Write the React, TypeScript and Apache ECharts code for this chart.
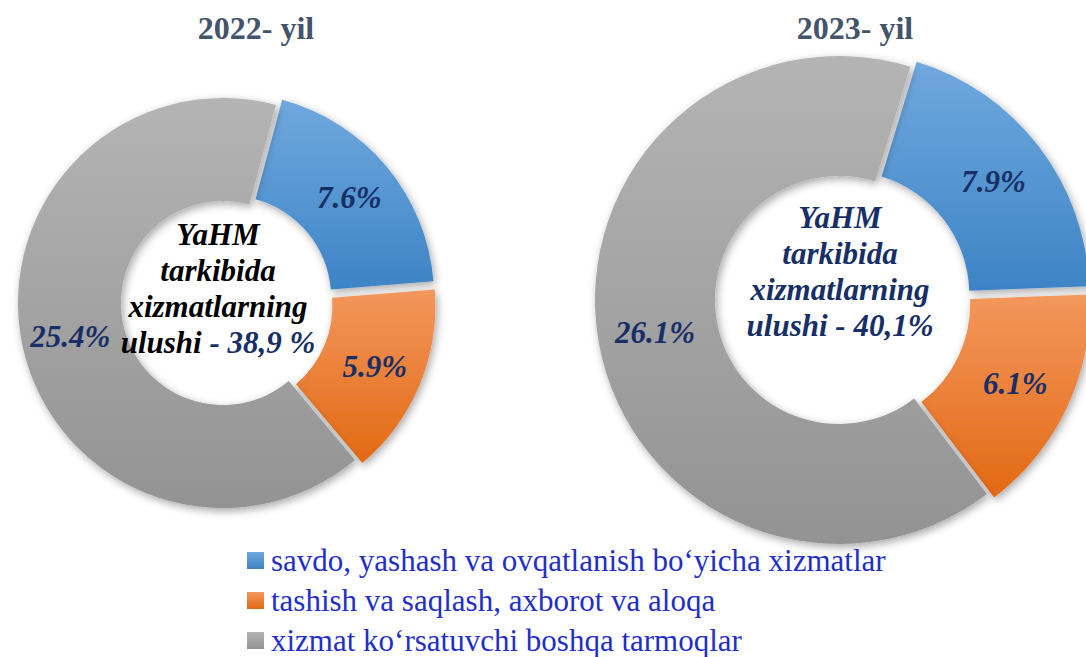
import React, { useEffect, useRef } from "react";
import * as echarts from "echarts";

const categories = [
  "savdo, yashash va ovqatlanish bo‘yicha xizmatlar",
  "tashish va saqlash, axborot va aloqa",
  "xizmat ko‘rsatuvchi boshqa tarmoqlar",
];
const values2022 = [7.6, 5.9, 25.4];
const values2023 = [7.9, 6.1, 26.1];
const yearTitles = ["2022- yil", "2023- yil"];
const totalLabels = ["- 38,9 %", "- 40,1%"];
const centerLines = ["YaHM", "tarkibida", "xizmatlarning", "ulushi "];

const gradients = [
  ["#70a8de", "#3d84c6"],
  ["#f3975c", "#e26914"],
  ["#b4b4b4", "#939393"],
];

const NAVY = "#172f66";
const SERIF = "'Liberation Serif', 'Times New Roman', serif";

function grad(c: string[]) {
  return new echarts.graphic.LinearGradient(0, 0, 0, 1, [
    { offset: 0, color: c[0] },
    { offset: 1, color: c[1] },
  ]);
}

function pieSeries(values: number[], center: number[], radius: number[], startAngle: number) {
  return {
    type: "pie",
    center,
    radius,
    startAngle,
    clockwise: true,
    selectedMode: "multiple",
    selectedOffset: 8,
    avoidLabelOverlap: false,
    emphasis: { disabled: true },
    label: {
      show: true,
      position: "inside",
      formatter: "{c}%",
      fontFamily: SERIF,
      fontStyle: "italic",
      fontWeight: "bold",
      fontSize: 31,
      color: NAVY,
    },
    labelLine: { show: false },
    itemStyle: {
      shadowBlur: 8,
      shadowColor: "rgba(0,0,0,0.35)",
      shadowOffsetX: 2,
      shadowOffsetY: 3,
    },
    data: values.map((v, i) => ({
      name: categories[i],
      value: v,
      selected: i < 2,
      itemStyle: { color: grad(gradients[i]) },
    })),
  };
}

function centerText(x: number, y: number, idx: number, firstColor: string) {
  const base = {
    fontFamily: SERIF,
    fontStyle: "italic",
    fontWeight: "bold",
    fontSize: 31,
    lineHeight: 36,
  };
  const rich = {
    b: { ...base, fill: firstColor },
    n: { ...base, fill: NAVY },
  };
  const text = centerLines
    .map((l, i) => (i < centerLines.length - 1 ? `{b|${l}}` : `{b|${l}}{n|${totalLabels[idx]}}`))
    .join("\n");
  return {
    type: "text",
    x,
    y,
    style: {
      text,
      rich,
      align: "center",
      verticalAlign: "middle",
    },
    z: 10,
  };
}

function titleText(x: number, text: string) {
  return {
    type: "text",
    x,
    y: 28,
    style: {
      text,
      fontFamily: SERIF,
      fontWeight: "bold",
      fontSize: 32,
      fill: "#44546a",
      align: "center",
      verticalAlign: "middle",
    },
  };
}

export default function App() {
  const ref = useRef<HTMLDivElement>(null);
  useEffect(() => {
    if (!ref.current) return;
    const chart = echarts.init(ref.current, undefined, { renderer: "svg" });
    chart.setOption({
      animation: false,
      backgroundColor: "#ffffff",
      legend: {
        orient: "vertical",
        left: 247,
        top: 545,
        height: 140,
        padding: 0,
        itemWidth: 17,
        itemHeight: 17,
        itemGap: 9,
        icon: "rect",
        selectedMode: false,
        data: categories,
        textStyle: {
          fontFamily: SERIF,
          fontSize: 31,
          lineHeight: 31,
          color: "#1f2fc8",
          padding: [0, 0, 0, 2],
        },
      },
      series: [
        pieSeries(values2022, [223, 303], [102, 205], 75),
        pieSeries(values2023, [839, 300], [124, 244], 73),
      ],
      graphic: [
        titleText(256, yearTitles[0]),
        titleText(855, yearTitles[1]),
        centerText(218, 288, 0, "#000000"),
        centerText(840, 271, 1, NAVY),
      ],
    });
    return () => chart.dispose();
  }, []);
  return (
    <div
      ref={ref}
      style={{ position: "absolute", left: 0, top: 0, width: 1086, height: 657 }}
    />
  );
}
